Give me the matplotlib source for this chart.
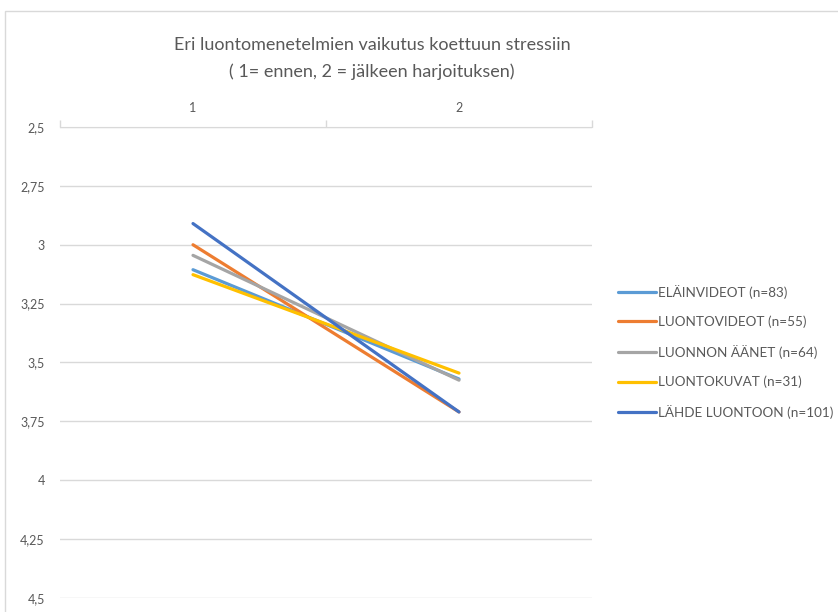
import matplotlib.pyplot as plt
from matplotlib.patches import Rectangle
from matplotlib.ticker import FixedLocator, FuncFormatter

plt.rcParams['font.family'] = ['Lato', 'DejaVu Sans']

# data
phases = [1, 2]
series = ['ELÄINVIDEOT (n=83)', 'LUONTOVIDEOT (n=55)', 'LUONNON ÄÄNET (n=64)',
          'LUONTOKUVAT (n=31)', 'LÄHDE LUONTOON (n=101)']
elainvideot = [3.106, 3.57]
luontovideot = [3.0, 3.71]
luonnon_aanet = [3.045, 3.575]
luontokuvat = [3.127, 3.545]
lahde_luontoon = [2.91, 3.71]
colors = ['#5B9BD5', '#ED7D31', '#A5A5A5', '#FFC000', '#4472C4']
yticks = [2.5, 2.75, 3, 3.25, 3.5, 3.75, 4, 4.25, 4.5]

fig = plt.figure(figsize=(8.38, 6.12), dpi=100)
ax = fig.add_axes([60/838, 1-598/612, (592-60)/838, (598-127)/612])

vals = [elainvideot, luontovideot, luonnon_aanet, luontokuvat, lahde_luontoon]
for name, v, c in zip(series, vals, colors):
	ax.plot(phases, v, color=c, lw=2.3, label=name, solid_capstyle='round')

ax.set_xlim(0.5, 2.5)
ax.set_ylim(4.5, 2.5)
ax.set_yticks(yticks)
ax.yaxis.set_major_formatter(FuncFormatter(lambda y, p: ('%g' % y).replace('.', ',')))
ax.grid(axis='y', color='#d9d9d9', lw=1)
ax.set_axisbelow(True)
ax.tick_params(axis='y', length=0, pad=11, labelsize=9, labelcolor='#595959')

ax.xaxis.tick_top()
ax.set_xticks(phases)
ax.xaxis.set_minor_locator(FixedLocator([0.5, 1.5, 2.5]))
ax.tick_params(axis='x', which='major', length=0, pad=9, labelsize=9, labelcolor='#595959')
ax.tick_params(axis='x', which='minor', length=5, color='#d9d9d9', width=1)
for s in ['left', 'right', 'bottom']:
	ax.spines[s].set_visible(False)
ax.spines['top'].set_color('#d9d9d9')

fig.text(372/838, 1-45/612, 'Eri luontomenetelmien vaikutus koettuun stressiin',
	ha='center', va='center', fontsize=13, color='#595959')
fig.text(372/838, 1-72/612, '( 1= ennen, 2 = jälkeen harjoituksen)',
	ha='center', va='center', fontsize=13, color='#595959')

leg = ax.legend(loc='center left', bbox_to_anchor=(606/838, 1-352/612), bbox_transform=fig.transFigure,
	frameon=False, fontsize=9.7, handlelength=2.8, handletextpad=0.15, labelspacing=1.25)
for t in leg.get_texts():
	t.set_color('#595959')

fig.patches.append(Rectangle((5/838, -0.01), 1.0, 1-11/612+0.01, transform=fig.transFigure,
	fill=False, edgecolor='#d9d9d9', lw=1))

fig.savefig('out.png', dpi=100)
